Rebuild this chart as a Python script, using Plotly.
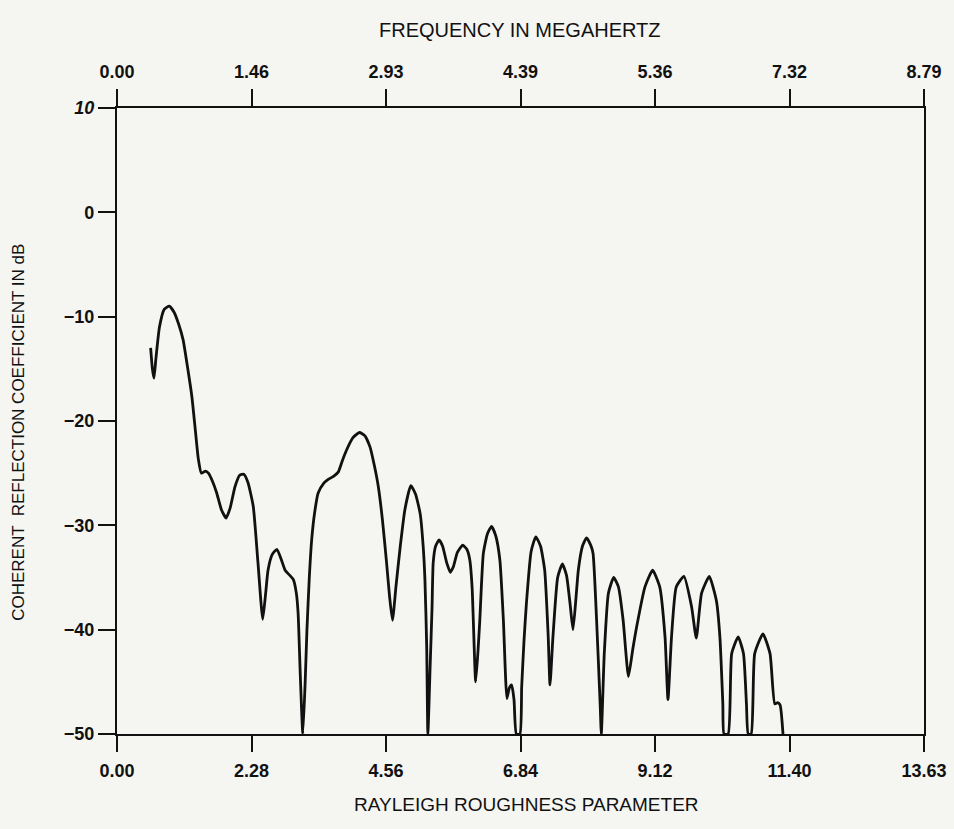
import plotly.graph_objects as go

# Data
roughness = [0.57, 0.60, 0.627, 0.66, 0.72, 0.80, 0.886, 0.97, 1.05, 1.12, 1.20, 1.27, 1.33, 1.38, 1.43,
             1.50, 1.55, 1.62, 1.69, 1.77, 1.85, 1.92, 2.00, 2.08, 2.15, 2.22, 2.31, 2.39, 2.47, 2.52,
             2.56, 2.63, 2.71, 2.78, 2.85, 2.93, 2.99, 3.04, 3.07, 3.11, 3.15, 3.19, 3.22, 3.26, 3.30,
             3.35, 3.41, 3.50, 3.58, 3.67, 3.75, 3.82, 3.89, 4.00, 4.11, 4.20, 4.29, 4.36, 4.43, 4.50,
             4.57, 4.62, 4.67, 4.73, 4.80, 4.88, 4.98, 5.06, 5.14, 5.19, 5.22, 5.25, 5.27, 5.31, 5.34,
             5.36, 5.40, 5.46, 5.52, 5.59, 5.65, 5.70, 5.77, 5.86, 5.93, 5.98, 6.02, 6.04, 6.08, 6.12,
             6.15, 6.21, 6.28, 6.35, 6.42, 6.49, 6.55, 6.61, 6.65, 6.69, 6.73, 6.77, 6.83, 6.86, 6.90,
             6.94, 7.02, 7.10, 7.18, 7.25, 7.31, 7.34, 7.39, 7.47, 7.55, 7.62, 7.68, 7.73, 7.78, 7.82,
             7.89, 7.96, 8.03, 8.07, 8.13, 8.19, 8.21, 8.26, 8.33, 8.42, 8.50, 8.58, 8.67, 8.74, 8.81,
             8.95, 9.08, 9.20, 9.29, 9.34, 9.40, 9.48, 9.61, 9.74, 9.82, 9.91, 10.04, 10.16, 10.22, 10.27,
             10.29, 10.36, 10.42, 10.53, 10.62, 10.67, 10.70, 10.75, 10.81, 10.95, 11.07, 11.15, 11.20, 11.24, 11.29]
reflection_db = [-13.0, -15.0, -15.9, -14.0, -11.0, -9.3, -9.0, -9.6, -10.8, -12.2, -15.0, -17.7, -21.0, -23.7, -25.0,
                 -24.8, -25.0, -25.8, -26.9, -28.5, -29.3, -28.3, -26.3, -25.2, -25.1, -25.9, -28.2, -33.6, -39.0, -36.5,
                 -34.3, -32.8, -32.3, -33.2, -34.3, -34.8, -35.2, -36.5, -38.4, -44.8, -50.0, -45.0, -40.0, -35.0, -31.4,
                 -28.8, -26.9, -26.0, -25.6, -25.3, -24.9, -23.8, -22.8, -21.6, -21.1, -21.4, -22.5, -24.2, -26.3, -29.5,
                 -33.6, -36.8, -39.1, -35.8, -32.1, -28.5, -26.2, -27.0, -28.9, -32.0, -35.2, -41.6, -50.0, -43.2, -38.0,
                 -33.6, -32.0, -31.4, -32.0, -33.6, -34.5, -34.0, -32.6, -31.9, -32.3, -33.3, -36.0, -39.1, -45.0, -42.0,
                 -39.1, -32.7, -30.8, -30.1, -31.0, -33.3, -39.1, -46.6, -45.6, -45.3, -46.7, -50.0, -50.0, -45.5, -41.0,
                 -37.5, -32.5, -31.1, -32.0, -34.3, -40.7, -45.3, -40.7, -35.0, -33.7, -34.8, -37.5, -40.0, -37.0, -34.3,
                 -32.0, -31.2, -31.9, -32.7, -39.1, -47.1, -50.0, -42.3, -36.5, -35.0, -35.9, -39.1, -44.5, -42.0, -39.7,
                 -35.9, -34.3, -35.9, -40.7, -46.7, -40.7, -35.9, -34.9, -37.8, -40.8, -36.5, -34.9, -37.2, -40.7, -47.1,
                 -50.0, -50.0, -42.3, -40.7, -42.3, -47.1, -50.0, -50.0, -42.3, -40.4, -42.3, -47.1, -47.0, -47.2, -50.0]

rough_tick_labels = ["0.00", "2.28", "4.56", "6.84", "9.12", "11.40", "13.63"]
freq_tick_labels = ["0.00", "1.46", "2.93", "4.39", "5.36", "7.32", "8.79"]
db_tick_values = [10, 0, -10, -20, -30, -40, -50]
db_tick_labels = ["<i>10</i>", "0", "\u221210", "\u221220", "\u221230", "\u221240", "\u221250"]

X_STEP = 2.28
X_MAX = X_STEP * 6
rough_tick_vals = [i * X_STEP for i in range(len(rough_tick_labels))]

FONT = "Liberation Sans, Arial, Helvetica, sans-serif"
INK = "#111111"

fig = go.Figure()
fig.add_trace(go.Scatter(x=roughness, y=reflection_db, mode="lines",
                         line=dict(color=INK, width=2.8, shape="spline", smoothing=0.5),
                         hoverinfo="skip", showlegend=False, cliponaxis=True))
# invisible helper trace for top axis
fig.add_trace(go.Scatter(x=[0, X_MAX], y=[-50, -50], xaxis="x2", mode="lines",
                         line=dict(width=0, color="rgba(0,0,0,0)"), hoverinfo="skip", showlegend=False))

axis_common = dict(showgrid=False, zeroline=False, showline=True, linecolor=INK, linewidth=2.4,
                   ticks="outside", tickcolor=INK, tickwidth=2.4, automargin=False,
                   tickfont=dict(family=FONT, size=18, color=INK, weight="bold"))

fig.update_layout(
    width=954, height=829,
    margin=dict(l=117, r=30, t=108, b=95),
    paper_bgcolor="#f5f5f2", plot_bgcolor="#f5f5f2",
    xaxis=dict(range=[0, X_MAX], tickvals=rough_tick_vals, ticktext=rough_tick_labels,
               ticklen=16, mirror=True, ticklabelstandoff=3, **axis_common),
    xaxis2=dict(range=[0, X_MAX], overlaying="x", side="top", tickvals=rough_tick_vals,
                ticktext=freq_tick_labels, ticklen=17, ticklabelstandoff=4, **axis_common),
    yaxis=dict(range=[-50, 10], tickvals=db_tick_values, ticktext=db_tick_labels,
               ticklen=17, mirror=True, **axis_common),
    annotations=[
        dict(text="FREQUENCY IN MEGAHERTZ", xref="paper", yref="paper", x=0.4994, y=1.1246,
             showarrow=False, font=dict(family=FONT, size=20, color=INK), xanchor="center", yanchor="middle"),
        dict(text="RAYLEIGH ROUGHNESS PARAMETER", xref="paper", yref="paper", x=0.507, y=-0.1134,
             showarrow=False, font=dict(family=FONT, size=19, color=INK), xanchor="center", yanchor="middle"),
        dict(text="COHERENT  REFLECTION COEFFICIENT IN dB", xref="paper", yref="paper", x=-0.122, y=0.482,
             textangle=-90, showarrow=False, font=dict(family=FONT, size=17, color=INK),
             xanchor="center", yanchor="middle"),
    ],
)

fig.write_html("out.html")
